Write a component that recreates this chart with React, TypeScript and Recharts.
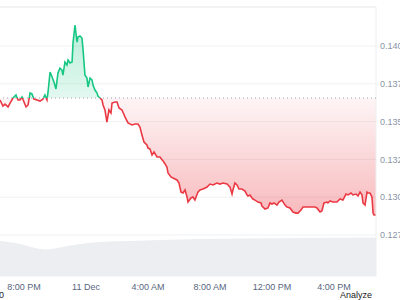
import { ComposedChart, Area, XAxis, YAxis, CartesianGrid, ReferenceLine } from 'recharts';

// hours relative to midnight 11 Dec
const times = [
  -5.55, -5.36, -5.23, -5.03, -4.9, -4.71, -4.52, -4.39, -4.26, -4.13, -4.0, -3.87, -3.74, -3.61, -3.49, -3.36,
  -3.16, -2.97, -2.78, -2.65, -2.52, -2.45, -2.32, -2.19, -2.07, -1.94, -1.81, -1.68, -1.55, -1.49, -1.36, -1.23,
  -1.16, -1.03, -0.9, -0.84, -0.71, -0.58, -0.52, -0.39, -0.26, -0.19, -0.07, 0.06, 0.13, 0.26, 0.39, 0.45,
  0.58, 0.71, 0.77, 0.9, 1.03, 1.1, 1.22, 1.35, 1.48, 1.61, 1.68, 1.87, 2.0, 2.13, 2.32, 2.52,
  2.71, 2.97, 3.16, 3.35, 3.48, 3.61, 3.74, 3.93, 4.0, 4.13, 4.26, 4.39, 4.58, 4.77, 4.97, 5.1,
  5.22, 5.29, 5.48, 5.61, 5.87, 6.0, 6.13, 6.26, 6.39, 6.52, 6.58, 6.77, 6.9, 7.03, 7.22, 7.35,
  7.55, 7.81, 8.0, 8.19, 8.45, 8.64, 8.84, 9.1, 9.29, 9.42, 9.48, 9.61, 9.74, 9.87, 10.06, 10.26,
  10.39, 10.45, 10.58, 10.71, 10.77, 10.9, 11.1, 11.29, 11.35, 11.55, 11.74, 11.87, 12.0, 12.13, 12.32, 12.45,
  12.64, 12.84, 12.97, 13.16, 13.35, 13.55, 13.68, 13.87, 14.0, 14.19, 14.32, 14.58, 14.77, 14.9, 15.1, 15.22,
  15.35, 15.55, 15.61, 15.74, 15.93, 16.19, 16.39, 16.58, 16.77, 16.9, 17.1, 17.22, 17.42, 17.55, 17.68, 17.81,
  17.87, 18.0, 18.13, 18.19, 18.32, 18.45, 18.52, 18.58, 18.71,
];

const prices = [
  0.13643, 0.13603, 0.13616, 0.13597, 0.13623, 0.13656, 0.13676, 0.13643, 0.13643, 0.13663, 0.1363, 0.13597, 0.1361, 0.13689, 0.13683, 0.13649,
  0.13643, 0.13636, 0.13649, 0.13676, 0.13643, 0.13696, 0.13828, 0.13795, 0.13762, 0.13716, 0.13821, 0.13854, 0.13841, 0.13808, 0.13894, 0.13874,
  0.13907, 0.13888, 0.13894, 0.1402, 0.14139, 0.14026, 0.1406, 0.14066, 0.14053, 0.13974, 0.13808, 0.13788, 0.13729, 0.13788, 0.13775, 0.13742,
  0.13709, 0.13689, 0.13669, 0.13656, 0.13643, 0.1361, 0.13577, 0.13497, 0.13577, 0.13557, 0.13623, 0.1363, 0.1363, 0.1359, 0.13577, 0.1353,
  0.13491, 0.13478, 0.13484, 0.13484, 0.13464, 0.13411, 0.13365, 0.13345, 0.13325, 0.13319, 0.13279, 0.13299, 0.13266, 0.13266, 0.1324, 0.1322,
  0.132, 0.1316, 0.13134, 0.13127, 0.13114, 0.13094, 0.13034, 0.13028, 0.13048, 0.13001, 0.12968, 0.12995, 0.13001, 0.12981, 0.13034, 0.13048,
  0.13054, 0.13067, 0.13087, 0.13081, 0.13094, 0.13087, 0.13094, 0.13087, 0.13067, 0.13021, 0.13048, 0.13094, 0.13081, 0.13054, 0.13054, 0.13041,
  0.13015, 0.13008, 0.13015, 0.12995, 0.12988, 0.12981, 0.12968, 0.12962, 0.12942, 0.12922, 0.12929, 0.12962, 0.12955, 0.12962, 0.12948, 0.12968,
  0.12981, 0.12948, 0.12935, 0.12929, 0.12902, 0.12895, 0.12895, 0.12915, 0.12935, 0.12935, 0.12935, 0.12935, 0.12935, 0.12929, 0.12902, 0.12909,
  0.12962, 0.12968, 0.12962, 0.12975, 0.12968, 0.12968, 0.12988, 0.12981, 0.13021, 0.13015, 0.13028, 0.13015, 0.13021, 0.13008, 0.13034, 0.13015,
  0.12962, 0.12948, 0.13034, 0.13028, 0.13028, 0.13001, 0.12895, 0.12882, 0.12882,
];

// 24h volume (millions), sampled coarsely
const volTimes = [-5.55, -4.26, -3.29, -2.65, -2.0, -1.36, -0.39, 0.9, 2.84, 4.77, 7.35, 10.58, 13.81, 18.71];
const volumes = [70, 64, 56, 53, 55, 59, 64, 68, 70, 72, 74, 75, 76, 77];

const openPrice = 0.13656;
const priceTicks = [0.1275, 0.13, 0.1325, 0.135, 0.1375, 0.14];
const xTicks = [-4, 0, 4, 8, 12, 16];
const xTickLabels = ['8:00 PM', '11 Dec', '4:00 AM', '8:00 AM', '12:00 PM', '4:00 PM'];

const X_MIN = -5.55;
const X_MAX = 18.71;
const Y_MIN = 0.12479;
const Y_MAX = 0.14258;

const GREEN = '#16c784';
const RED = '#ea3943';

export default function App() {
  const data = times.map((t, i) => ({ t, price: prices[i] }));
  const volData = volTimes.map((t, i) => ({ t, volume: volumes[i] }));

  const hi = Math.max(...prices);
  const lo = Math.min(...prices);
  const split = (hi - openPrice) / (hi - lo);

  return (
    <div
      style={{
        position: 'fixed',
        left: 0,
        top: 0,
        width: 400,
        height: 300,
        overflow: 'hidden',
        background: '#fff',
        fontFamily: '"Liberation Sans", Arial, sans-serif',
      }}
    >
      <ComposedChart width={436} height={300} data={data} margin={{ top: 7, right: 0, bottom: 0, left: 0 }}>
        <defs>
          <linearGradient id="strokeSplit" x1="0" y1="0" x2="0" y2="1">
            <stop offset={split} stopColor={GREEN} />
            <stop offset={split} stopColor={RED} />
          </linearGradient>
          <linearGradient id="fillSplit" x1="0" y1="0" x2="0" y2="1">
            <stop offset={0} stopColor={GREEN} stopOpacity={0.3} />
            <stop offset={split} stopColor={GREEN} stopOpacity={0.12} />
            <stop offset={split} stopColor={RED} stopOpacity={0.05} />
            <stop offset={1} stopColor={RED} stopOpacity={0.35} />
          </linearGradient>
        </defs>
        <CartesianGrid vertical={false} stroke="#eff1f3" />
        <XAxis
          dataKey="t"
          type="number"
          domain={[X_MIN, X_MAX]}
          ticks={xTicks}
          interval={0}
          tickFormatter={(v: number) => xTickLabels[xTicks.indexOf(v)] ?? ''}
          axisLine={false}
          tickLine={false}
          tickSize={0}
          tickMargin={8}
          height={24}
          tick={{ fontSize: 9, fill: '#58667e' }}
        />
        <YAxis
          orientation="right"
          domain={[Y_MIN, Y_MAX]}
          ticks={priceTicks}
          allowDataOverflow
          tickFormatter={(v: number) => v.toFixed(4)}
          axisLine={false}
          tickLine={false}
          tickSize={0}
          tickMargin={4}
          width={60}
          tick={{ fontSize: 9, fill: '#8a94a6' }}
        />
        <YAxis yAxisId="vol" hide domain={[0, 538]} />
        <Area
          yAxisId="vol"
          data={volData}
          dataKey="volume"
          type="monotone"
          stroke="none"
          fill="#eceef1"
          fillOpacity={1}
          isAnimationActive={false}
          activeDot={false}
        />
        <ReferenceLine y={Y_MAX} stroke="#eceef1" />
        <ReferenceLine x={X_MAX} stroke="#eceef1" />
        <Area
          dataKey="price"
          type="linear"
          baseValue={openPrice}
          stroke="url(#strokeSplit)"
          strokeWidth={1.6}
          fill="url(#fillSplit)"
          fillOpacity={1}
          dot={false}
          activeDot={false}
          isAnimationActive={false}
        />
        <ReferenceLine y={openPrice} stroke="#9ca3af" strokeDasharray="1 3" />
      </ComposedChart>
      <div style={{ position: 'absolute', left: -1, top: 290, fontSize: 9, color: '#222' }}>0</div>
      <div style={{ position: 'absolute', left: 340, top: 290, fontSize: 9, color: '#222' }}>Analyze</div>
    </div>
  );
}
